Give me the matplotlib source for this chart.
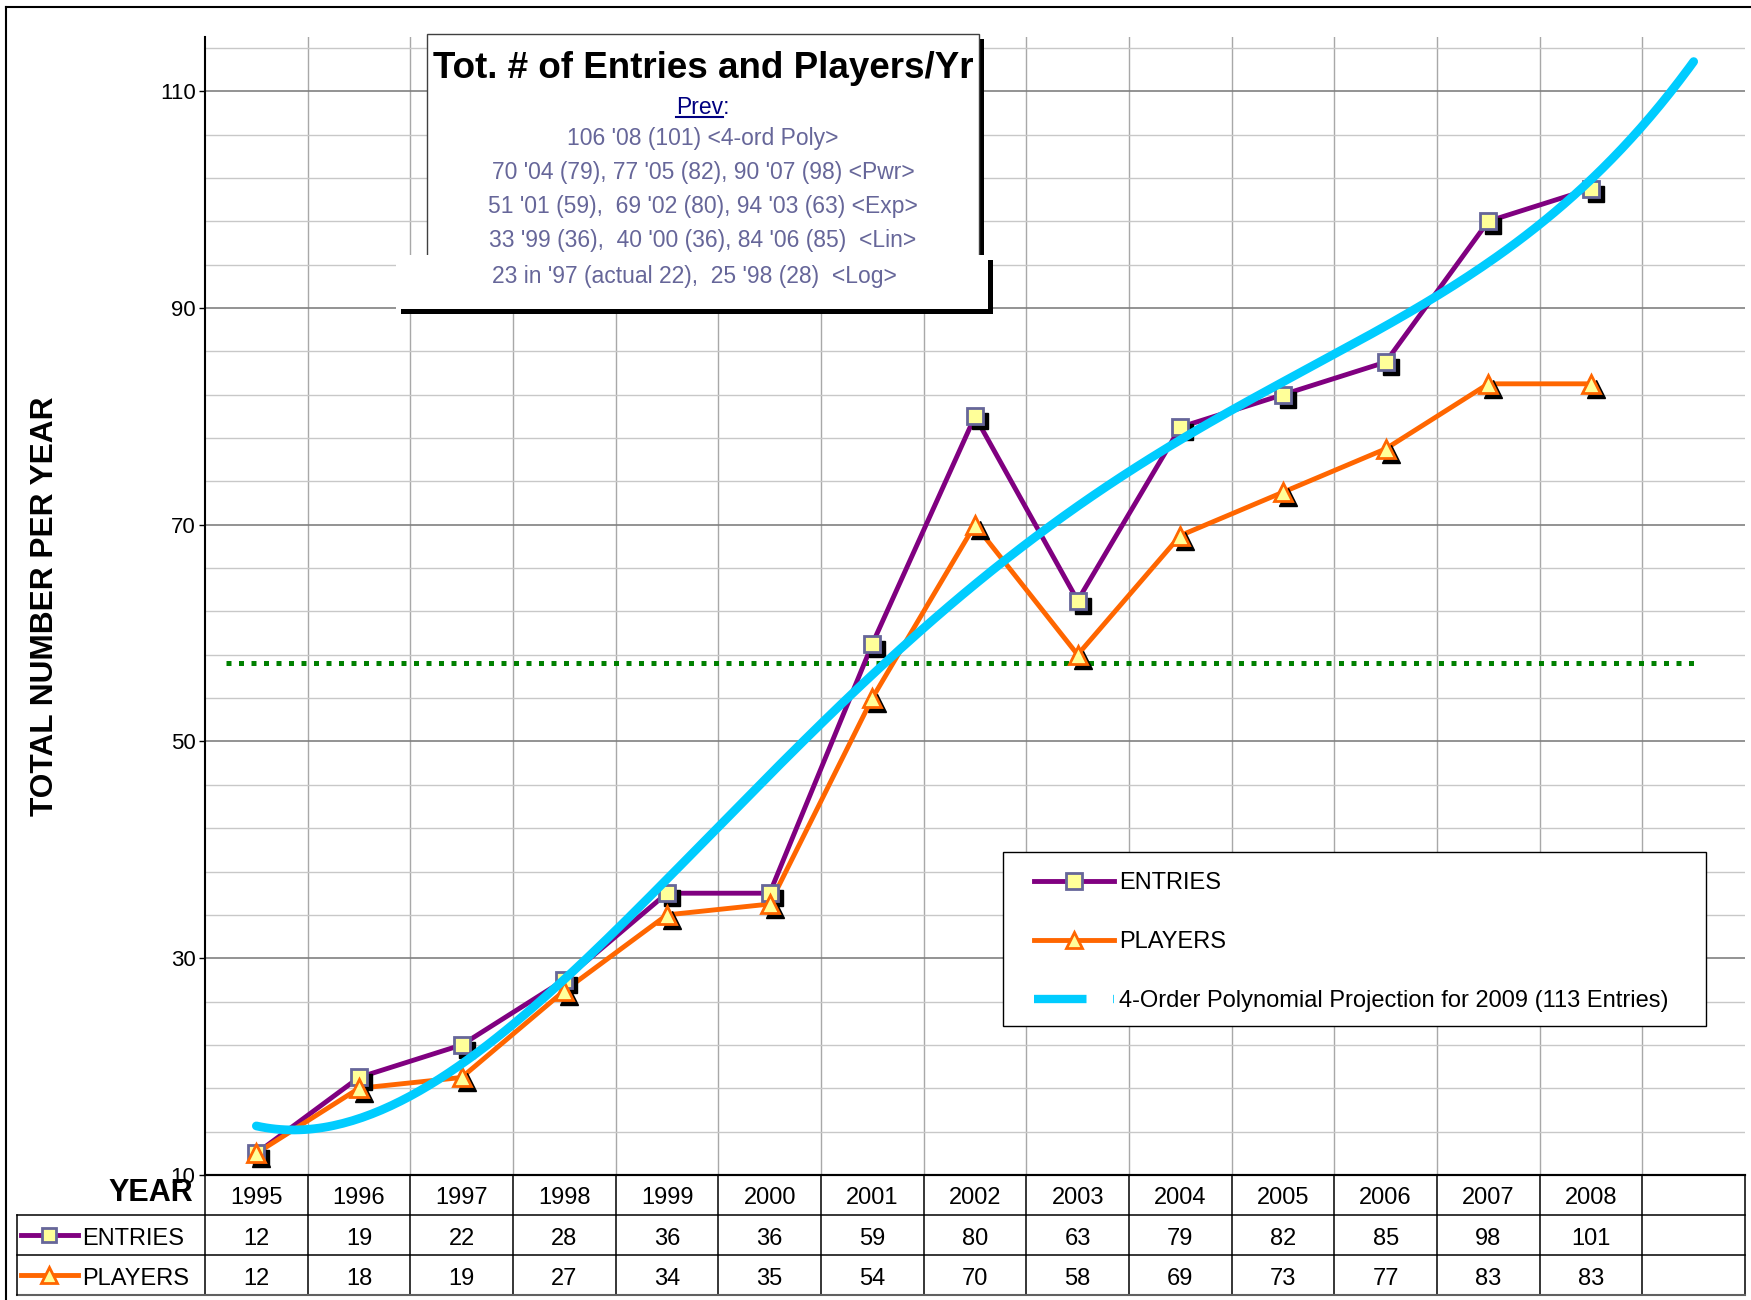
import matplotlib.pyplot as plt
import numpy as np
from matplotlib.lines import Line2D
from matplotlib.patches import Rectangle
from matplotlib.transforms import offset_copy

plt.rcParams["font.family"] = ["Liberation Sans", "DejaVu Sans"]

# ---- data ----
years = [1995, 1996, 1997, 1998, 1999, 2000, 2001, 2002, 2003, 2004, 2005, 2006, 2007, 2008]
entries = [12, 19, 22, 28, 36, 36, 59, 80, 63, 79, 82, 85, 98, 101]
players = [12, 18, 19, 27, 34, 35, 54, 70, 58, 69, 73, 77, 83, 83]
n_slots = 15          # category axis keeps one empty slot for 2009
avg_level = 57.2      # green dotted line
avg_span = (-0.3, 14.0)
poly_order = 4

title = "Tot. # of Entries and Players/Yr"
prev_lines = [
    "106 '08 (101) <4-ord Poly>",
    "70 '04 (79), 77 '05 (82), 90 '07 (98) <Pwr>",
    "51 '01 (59),  69 '02 (80), 94 '03 (63) <Exp>",
    "33 '99 (36),  40 '00 (36), 84 '06 (85)  <Lin>",
]
last_line = "23 in '97 (actual 22),  25 '98 (28)  <Log>"
legend_labels = ["ENTRIES", "PLAYERS", "4-Order Polynomial Projection for 2009 (113 Entries)"]

PURPLE = "#800080"
ORANGE = "#FF6600"
CYAN = "#00CCFF"
YELLOW = "#FFFF99"
SQ_EDGE = "#666699"
GREEN = "#008000"
NOTE = "#666699"

W, H = 1751, 1300


def fx(px):
    return px / W


def fy(py):
    return 1 - py / H


fig = plt.figure(figsize=(W / 100, H / 100), dpi=100)
ax = fig.add_axes([fx(205), fy(1175), fx(1745) - fx(205), fy(37) - fy(1175)])

x = np.arange(len(years))
ax.set_xlim(-0.5, n_slots - 0.5)
ax.set_ylim(10, 115)

# grid
ax.set_yticks(np.arange(10, 111, 20))
ax.set_yticks([v for v in np.arange(14, 115, 4) if (v - 10) % 20], minor=True)
ax.set_xticks(np.arange(0.5, n_slots - 1, 1.0))
ax.grid(which="major", axis="y", color="#808080", lw=1.2)
ax.grid(which="minor", axis="y", color="#C8C8C8", lw=1.0)
ax.grid(which="major", axis="x", color="#A8A8A8", lw=1.0)
ax.set_axisbelow(True)
ax.tick_params(axis="y", which="major", direction="out", length=4.3, width=1,
               labelsize=16, pad=2.5)
ax.tick_params(axis="y", which="minor", length=0)
ax.tick_params(axis="x", length=0, labelbottom=False)
for s in ["top", "right"]:
    ax.spines[s].set_visible(False)
ax.spines["left"].set_linewidth(1.5)
ax.spines["bottom"].set_linewidth(1.5)

# average line
ax.hlines(avg_level, avg_span[0], avg_span[1], color=GREEN, lw=3.6,
          linestyles=[(0, (1, 1.5))], zorder=2)

# series lines
ax.plot(x, entries, color=PURPLE, lw=3.5, zorder=3)
ax.plot(x, players, color=ORANGE, lw=3.5, zorder=3)

# marker shadows
shadow = offset_copy(ax.transData, fig=fig, x=5, y=-5, units="dots")
ax.plot(x, entries, ls="none", marker="s", ms=11.5, color="black", transform=shadow, zorder=4)
ax.plot(x, players, ls="none", marker="^", ms=12.5, color="black", transform=shadow, zorder=4)
ax.plot(x, entries, ls="none", marker="s", ms=11.5, mfc=YELLOW, mec=SQ_EDGE, mew=2, zorder=5)
ax.plot(x, players, ls="none", marker="^", ms=12.5, mfc=YELLOW, mec=ORANGE, mew=2, zorder=5)

# 4th order polynomial trend, projected one year ahead
coef = np.polyfit(x, entries, poly_order)
xs = np.linspace(0, len(years), 300)
ax.plot(xs, np.polyval(coef, xs), color=CYAN, lw=6.3, solid_capstyle="round", zorder=6)

# y label
fig.text(fx(45), fy(606), "TOTAL NUMBER PER YEAR", rotation=90, ha="center", va="center",
         fontsize=22.8, fontweight="bold")

# ---- data table under the axis ----
tab = fig.add_axes([fx(205), fy(1295), fx(1745) - fx(205), fy(1175) - fy(1295)])
tab.set_xlim(-0.5, n_slots - 0.5)
tab.set_ylim(3, 0)
tab.axis("off")
cat_w = (1745 - 205) / n_slots
lab_left = -0.5 - (205 - 17) / cat_w

for b in np.arange(-0.5, n_slots, 1.0):
    tab.plot([b, b], [0, 3], color="black", lw=1.1, clip_on=False)
tab.plot([-0.5, n_slots - 0.5], [0, 0], color="black", lw=1.5, clip_on=False)
for r in [1, 2]:
    tab.plot([lab_left, n_slots - 0.5], [r, r], color="black", lw=1.1, clip_on=False)
tab.plot([lab_left, n_slots - 0.5], [3, 3], color="#606060", lw=1.5, clip_on=False)
tab.plot([lab_left, lab_left], [1, 3], color="black", lw=1.1, clip_on=False)

for i in range(len(years)):
    tab.text(i, 0.58, str(years[i]), ha="center", va="center", fontsize=17)
    tab.text(i, 1.61, str(entries[i]), ha="center", va="center", fontsize=17)
    tab.text(i, 2.61, str(players[i]), ha="center", va="center", fontsize=17)

tab.text(-0.5 - (205 - 193) / cat_w, 0.45, "YEAR", ha="right", va="center",
         fontsize=22, fontweight="bold", clip_on=False)

key_l = -0.5 - (205 - 21) / cat_w
key_r = -0.5 - (205 - 78) / cat_w
key_m = -0.5 - (205 - 49) / cat_w
key_t = -0.5 - (205 - 82) / cat_w
for row, color, mk, ms, mec, lab in [(1.5, PURPLE, "s", 10, SQ_EDGE, legend_labels[0]),
                                     (2.5, ORANGE, "^", 11, ORANGE, legend_labels[1])]:
    tab.plot([key_l, key_r], [row, row], color=color, lw=3.5, clip_on=False)
    tab.plot([key_m], [row], marker=mk, ms=ms, mfc=YELLOW, mec=mec, mew=2, clip_on=False)
    tab.text(key_t, row + 0.1, lab, ha="left", va="center", fontsize=17, clip_on=False)

# ---- legend ----
handles = [
    Line2D([], [], color=PURPLE, lw=3.5, marker="s", ms=11, mfc=YELLOW, mec=SQ_EDGE, mew=2),
    Line2D([], [], color=ORANGE, lw=3.5, marker="^", ms=12, mfc=YELLOW, mec=ORANGE, mew=2),
    Line2D([], [], color=CYAN, lw=6, dashes=(6.3, 3.2), dash_capstyle="butt"),
]
fig.add_artist(Rectangle((fx(1003), fy(1026)), fx(1706) - fx(1003), fy(852) - fy(1026),
                         transform=fig.transFigure, facecolor="white", edgecolor="black",
                         lw=1.0, zorder=4))
fig.legend(handles, legend_labels, loc="upper left", bbox_to_anchor=(fx(1034), fy(872)),
           bbox_transform=fig.transFigure, frameon=False, borderpad=0, borderaxespad=0,
           fontsize=17, handlelength=3.4, handletextpad=0.2, labelspacing=1.57, numpoints=1)

# ---- title box ----
fig.add_artist(Rectangle((fx(432), fy(290)), fx(984) - fx(432), fy(38.5) - fy(290),
                         transform=fig.transFigure, facecolor="black", lw=0, zorder=5))
fig.add_artist(Rectangle((fx(427), fy(285)), fx(979) - fx(427), fy(33.5) - fy(285),
                         transform=fig.transFigure, facecolor="white", edgecolor="#404040",
                         lw=1.0, zorder=5.1))
fig.add_artist(Rectangle((fx(401), fy(314)), fx(993) - fx(401), fy(260) - fy(314),
                         transform=fig.transFigure, facecolor="black", lw=0, zorder=5.2))
fig.add_artist(Rectangle((fx(396), fy(309)), fx(988) - fx(396), fy(255) - fy(309),
                         transform=fig.transFigure, facecolor="white", lw=0, zorder=5.3))

fig.text(fx(703), fy(68), title, ha="center", va="center", fontsize=26.5,
         fontweight="bold", zorder=6)

note_size = 16.5
t_prev = fig.text(fx(703), fy(114), "Prev:", ha="center", va="baseline", fontsize=note_size,
                  color="#000080", zorder=6)
renderer = fig.canvas.get_renderer()
bb = t_prev.get_window_extent(renderer)
tmp = fig.text(0, 0, "Prev", fontsize=note_size)
w_prev = tmp.get_window_extent(renderer).width
tmp.remove()
fig.add_artist(Line2D([bb.x0 / W, (bb.x0 + w_prev) / W], [fy(117)] * 2,
                      transform=fig.transFigure, color="#000080", lw=1.5, zorder=6))

for yy, line in zip([138.5, 173, 206.5, 240], prev_lines):
    fig.text(fx(703), fy(yy), line, ha="center", va="center", fontsize=note_size,
             color=NOTE, zorder=6)
fig.text(fx(694), fy(276), last_line, ha="center", va="center", fontsize=note_size,
         color=NOTE, zorder=6)

# outer border (left and top only visible)
fig.add_artist(Line2D([fx(6), fx(6)], [0, fy(7)], transform=fig.transFigure, color="black", lw=1.5))
fig.add_artist(Line2D([fx(6), 1], [fy(7), fy(7)], transform=fig.transFigure, color="black", lw=1.5))

fig.savefig("out.png", dpi=100)
plt.close(fig)
